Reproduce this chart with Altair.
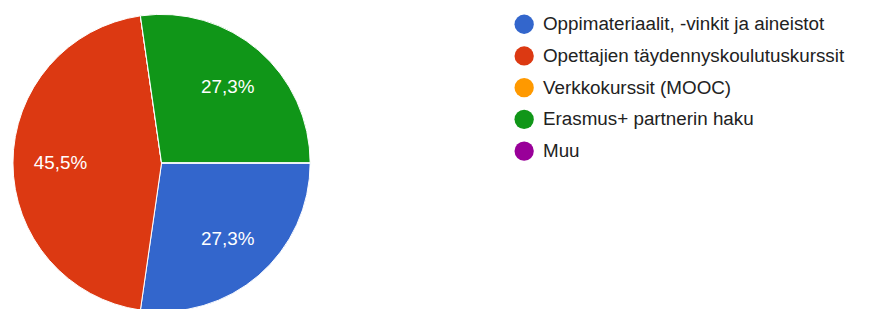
import math
import altair as alt
import pandas as pd

categories = [
    "Oppimateriaalit, -vinkit ja aineistot",
    "Opettajien täydennyskoulutuskurssit",
    "Verkkokurssit (MOOC)",
    "Erasmus+ partnerin haku",
    "Muu",
]
counts = [3, 5, 0, 3, 0]
labels = ["27,3%", "45,5%", "", "27,3%", ""]
colors = ["#3366cc", "#dc3912", "#ff9900", "#109618", "#990099"]

df = pd.DataFrame({
    "cat": categories,
    "n": counts,
    "lbl": labels,
    "ord": list(range(len(categories))),
})

theta_scale = alt.Scale(range=[math.pi / 2, math.pi / 2 + 2 * math.pi])
color = alt.Color(
    "cat:N",
    scale=alt.Scale(domain=categories, range=colors),
    legend=alt.Legend(
        title=None,
        orient="none",
        legendX=511,
        legendY=5,
        padding=0,
        symbolType="circle",
        symbolSize=380,
        symbolStrokeWidth=0,
        labelFont="Liberation Sans",
        labelFontSize=19,
        labelColor="#222222",
        labelOffset=9,
        rowPadding=12,
        labelLimit=400,
    ),
)

base = alt.Chart(df).encode(
    theta=alt.Theta("n:Q", stack=True, scale=theta_scale),
    order=alt.Order("ord:Q"),
)

pie = base.mark_arc(stroke="white", strokeWidth=1).encode(
    color=color,
    x=alt.value(155),
    y=alt.value(155),
    radius=alt.value(150),
)

text = base.transform_filter(alt.datum.n > 0).mark_text(
    font="Liberation Sans", fontSize=19, color="white", align="center", baseline="middle"
).encode(
    text="lbl:N",
    x=alt.value(155),
    y=alt.value(155),
    radius=alt.value(102),
)

chart = alt.layer(pie, text).properties(
    width=861, height=301, padding=0, autosize=alt.AutoSizeParams(type="none")
).configure_view(stroke=None)

chart.save("out.html", embed_options={"renderer": "svg", "actions": False})
